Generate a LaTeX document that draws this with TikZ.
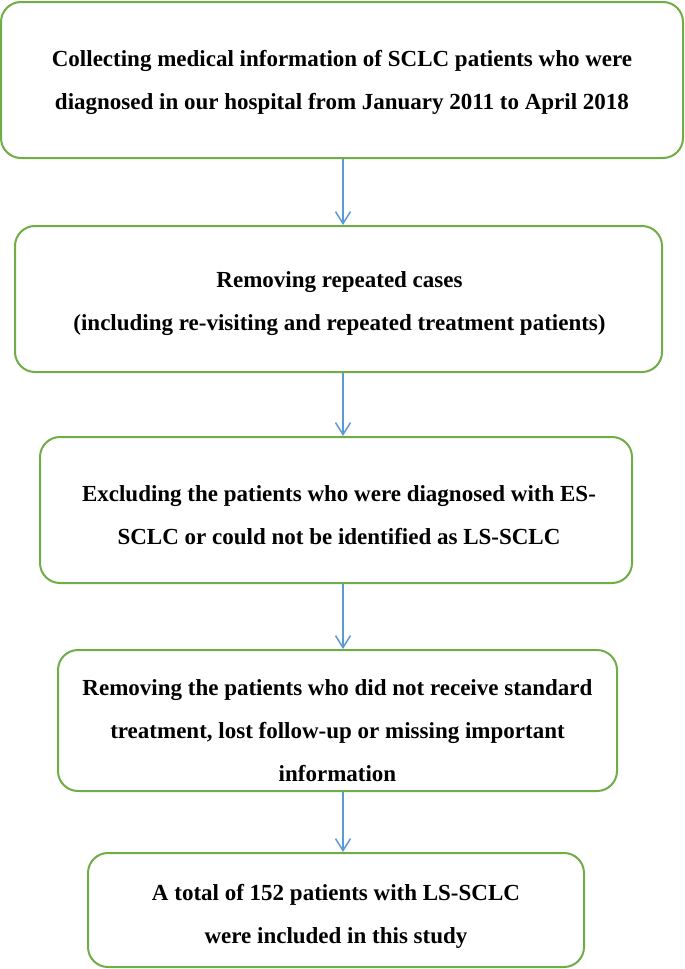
\documentclass[tikz,border=0pt]{standalone}
\usepackage{fontspec}
\setmainfont{Liberation Serif}
\usetikzlibrary{arrows.meta}
\definecolor{boxgreen}{RGB}{112,173,71}
\definecolor{arrowblue}{RGB}{91,155,213}
\tikzset{
  stepbox/.style={draw=boxgreen, line width=2pt, rounded corners=20pt, inner sep=0pt},
  boxtext/.style={align=center, font=\fontsize{23pt}{43pt}\selectfont\bfseries, inner sep=0pt},
  flowarrow/.style={draw=arrowblue, line width=1.5pt, -{Straight Barb[length=12pt,width=15pt,line width=1.5pt]}}
}
\begin{document}
\begin{tikzpicture}[x=1pt,y=-1pt]
\useasboundingbox (0,0) rectangle (685,969);
\node[stepbox, minimum width=682pt, minimum height=156pt] (b1) at (342,80) {};
\node[stepbox, minimum width=647pt, minimum height=146pt] (b2) at (338.5,299) {};
\node[stepbox, minimum width=592pt, minimum height=146pt] (b3) at (336,510) {};
\node[stepbox, minimum width=559pt, minimum height=141pt] (b4) at (337.5,720.5) {};
\node[stepbox, minimum width=496pt, minimum height=114pt] (b5) at (336,910) {};
\node[boxtext] (t1) at ([shift={(0,2)}]b1.center)
  {Collecting medical information of SCLC patients who were\\diagnosed in our hospital from January 2011 to April 2018};
\node[boxtext] (t2) at ([shift={(1,5)}]b2.center)
  {Removing repeated cases\\(including re-visiting and repeated treatment patients)};
\node[boxtext] (t3) at ([shift={(3,5)}]b3.center)
  {Excluding the patients who were diagnosed with ES-\\SCLC or could not be identified as LS-SCLC};
\node[boxtext] (t4) at ([shift={(0,10)}]b4.center)
  {Removing the patients who did not receive standard\\treatment, lost follow-up or missing important\\information};
\node[boxtext] (t5) at ([shift={(0,6)}]b5.center)
  {A total of 152 patients with LS-SCLC\\were included in this study};
\coordinate (ax) at (343,0);
\draw[flowarrow] (b1.south -| ax) -- (b2.north -| ax);
\draw[flowarrow] (b2.south -| ax) -- (b3.north -| ax);
\draw[flowarrow] (b3.south -| ax) -- (b4.north -| ax);
\draw[flowarrow] (b4.south -| ax) -- (b5.north -| ax);
\end{tikzpicture}
\end{document}
